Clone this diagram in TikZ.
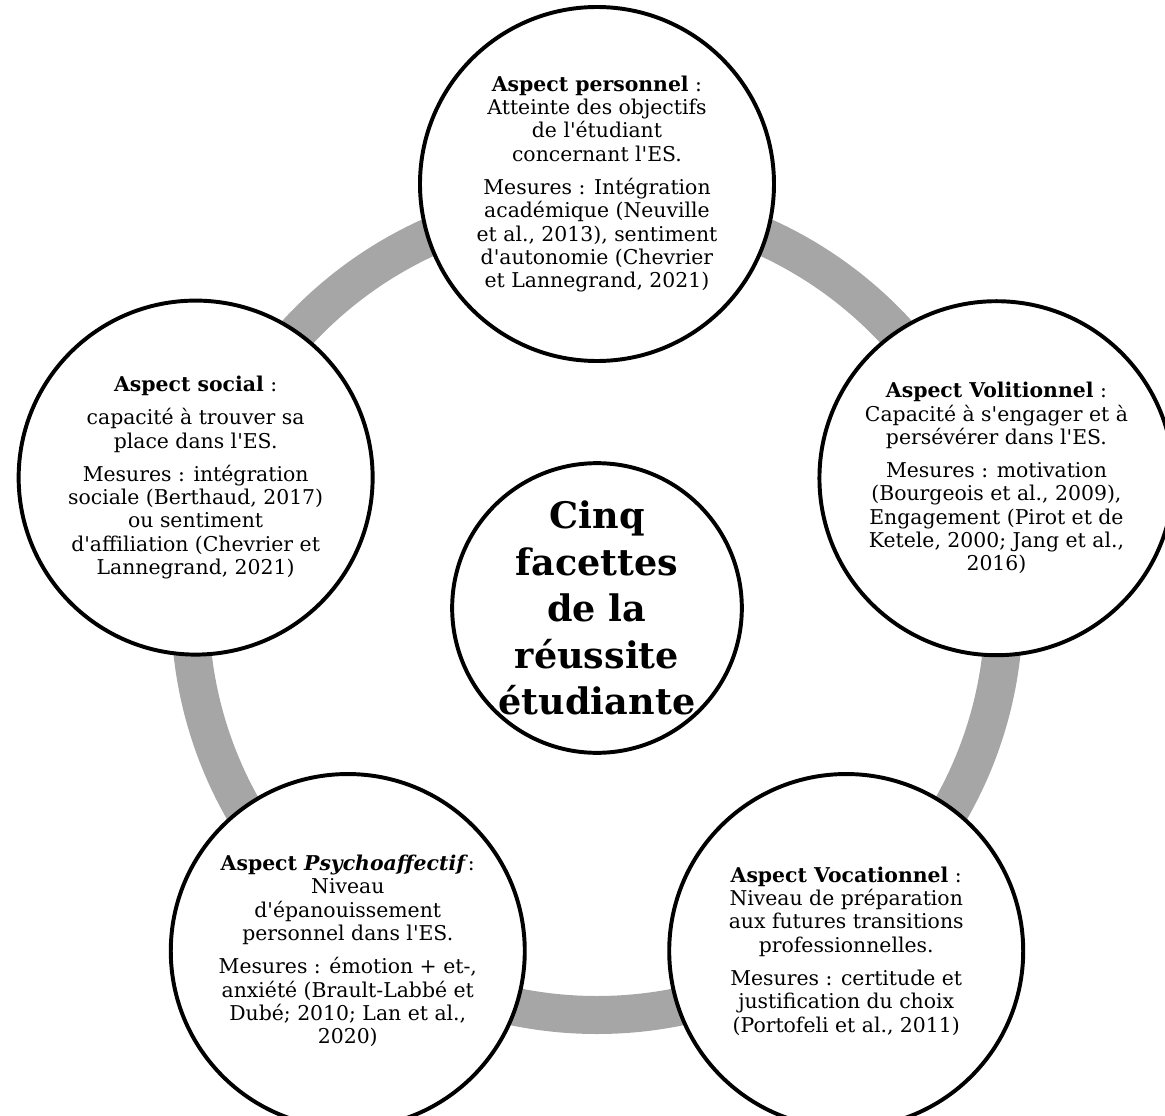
\documentclass[tikz,border=0pt]{standalone}
\usepackage{fontspec}
\usepackage{tikz}
\newfontfamily\facetfont{DejaVu Serif}
\definecolor{ringgray}{RGB}{166,166,166}
\tikzset{
  facet/.style={circle,draw,line width=2.8pt,fill=white,minimum size=8.85cm,inner sep=0pt,
    align=center,font=\facetfont\fontsize{14.5}{16.6}\selectfont},
  core/.style={circle,draw,line width=2.8pt,fill=white,minimum size=7cm,inner sep=0pt,
    align=center,font=\facetfont\bfseries\fontsize{26}{33}\selectfont},
  ring/.style={draw=ringgray,line width=0.95cm}
}

\begin{document}
\begin{tikzpicture}
  \useasboundingbox (-14.925,-12.675) rectangle (14.2,15.2);
  \node[core] (centre) at (0,0) {Cinq\\facettes\\de la\\réussite\\étudiante};
  % grey ring behind the five facets, r = 10.175
  \draw[ring] (centre.center) circle (10.175);
  % facets on a pentagon round the centre
  \node[facet] (perso) at (90:10.6) {\textbf{Aspect personnel} :\\Atteinte des objectifs\\de l'étudiant\\concernant l'ES.\\[7pt]Mesures : Intégration\\académique (Neuville\\et al., 2013), sentiment\\d'autonomie (Chevrier\\et Lannegrand, 2021)};
  \node[facet] (social) at (162:10.55) {\textbf{Aspect social} :\\[7pt]capacité à trouver sa\\place dans l'ES.\\[7pt]Mesures : intégration\\sociale (Berthaud, 2017)\\ou sentiment\\d'affiliation (Chevrier et\\Lannegrand, 2021)};
  \node[facet] (volit) at (18:10.5) {\textbf{Aspect Volitionnel} :\\Capacité à s'engager et à\\persévérer dans l'ES.\\[7pt]Mesures : motivation\\(Bourgeois et al., 2009),\\Engagement (Pirot et de\\Ketele, 2000; Jang et al.,\\2016)};
  \node[facet] (psycho) at (234:10.6) {\textbf{Aspect \textit{Psychoaffectif}}:\\Niveau\\d'épanouissement\\personnel dans l'ES.\\[7pt]Mesures : émotion + et-,\\anxiété (Brault-Labbé et\\Dubé; 2010; Lan et al.,\\2020)};
  \node[facet] (vocat) at (306:10.6) {\textbf{Aspect Vocationnel} :\\Niveau de préparation\\aux futures transitions\\professionnelles.\\[7pt]Mesures : certitude et\\justification du choix\\(Portofeli et al., 2011)};
\end{tikzpicture}
\end{document}
